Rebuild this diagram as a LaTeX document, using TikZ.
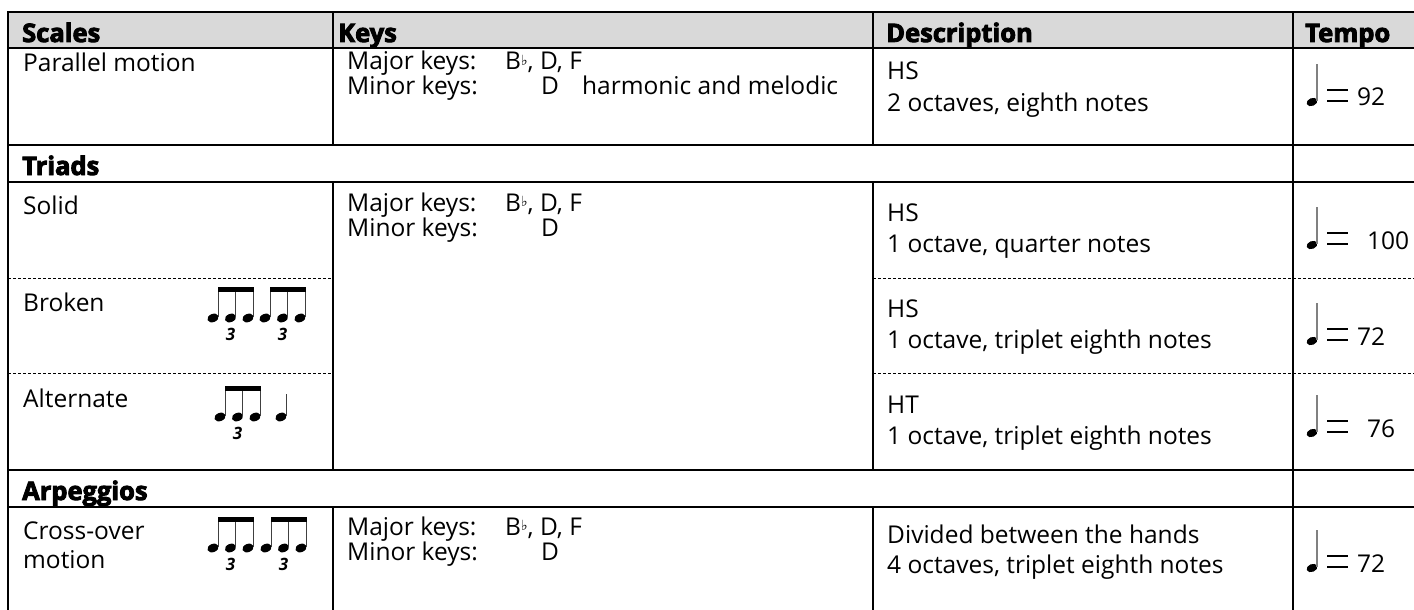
\documentclass[tikz,border=0pt]{standalone}
\usepackage{fontspec}
\setmainfont{Open Sans}
\newfontfamily\hdrfont{Open Sans}[BoldFeatures={FakeBold=3.5}]
\newfontfamily\symfont{DejaVu Sans}
\definecolor{hdrgray}{HTML}{D9D9D9}
\newcommand\flt{\raisebox{0.35ex}{\symfont\fontsize{14}{14}\selectfont ♭}}
\tikzset{
  grid/.style={line width=2.4pt, line cap=rect},
  dashline/.style={line width=0.9pt, dash pattern=on 3pt off 2pt},
  txt/.style={font=\fontsize{24.5}{30}\selectfont, anchor=base west, inner sep=0pt},
  hdr/.style={font=\hdrfont\bfseries\fontsize{25.5}{30}\selectfont, anchor=base west, inner sep=0pt},
  trinum/.style={font=\hdrfont\bfseries\itshape\fontsize{17}{17}\selectfont, inner sep=0pt},
  stemline/.style={line width=1.1pt, black!75},
  headfill/.style={fill=black},
  trip/.pic={
    \foreach \i in {0,1,2} {
      \fill[headfill, rotate around={22:(\i*17.5,0)}] (\i*17.5,0) ellipse [x radius=5.8, y radius=4.1];
      \draw[stemline] (\i*17.5+5.2,-1) -- (\i*17.5+5.2,-31);
    }
    \fill (4.6,-31) rectangle (40.8,-26.5);
    \node[trinum] (n) at (17.5,16) {3};
  },
  quarter/.pic={
    \fill[headfill, rotate=22] (0,0) ellipse [x radius=5.8, y radius=4.1];
    \draw[stemline] (5.2,-1) -- (5.2,-23);
  },
  tempo/.pic={
    \fill[headfill, rotate=22] (0,0) ellipse [x radius=5.6, y radius=3.9];
    \draw[line width=1.2pt, gray] (5,-1) -- (5,-38);
    \draw[line width=1.4pt] (15,-12) -- (36,-12) (15,-1) -- (36,-1);
  }
}
\begin{document}
\begin{tikzpicture}[x=1pt,y=-1pt]
\useasboundingbox (0,0) rectangle (1414,610);
% header background
\fill[hdrgray] (8,12) rectangle (1414,48);
% solid horizontal lines
\foreach \yy in {12,48,145,182,470,507}
  \draw[grid] (8,\yy) -- (1414,\yy);
% dashed lines
\foreach \yy in {278,373} {
  \draw[dashline] (8,\yy) -- (333,\yy);
  \draw[dashline] (873,\yy) -- (1414,\yy);
}
% vertical lines
\draw[grid] (8,12) -- (8,612);
\draw[grid] (1293,12) -- (1293,612);
\foreach \xx in {333,873} {
  \draw[grid] (\xx,12) -- (\xx,145);
  \draw[grid] (\xx,182) -- (\xx,470);
  \draw[grid] (\xx,507) -- (\xx,612);
}
% header
\node[hdr] (hs) at (22,42) {Scales};
\node[hdr] (hk) at (338,42) {Keys};
\node[hdr] (hd) at (886,42) {Description};
\node[hdr] (ht) at (1305,42) {Tempo};
% row 1
\node[txt] (r1a) at (23,72) {Parallel motion};
\node[txt] (r1k1) at (347,70) {Major keys:};
\node[txt] (r1k1v) at (505,70) {B\flt, D, F};
\node[txt] (r1k2) at (347,95) {Minor keys:};
\node[txt] (r1k2v) at (541,95) {D};
\node[txt] (r1k2w) at (582,95) {harmonic and melodic};
\node[txt] (r1d1) at (887,80) {HS};
\node[txt] (r1d2) at (887,111) {2 octaves, eighth notes};
\pic at (1312,102) {tempo};
\node[txt] (r1t) at (1357,106) {92};
% Triads
\node[hdr] (tri) at (22,175) {Triads};
% Solid
\node[txt] (sa) at (23,214) {Solid};
\node[txt] (sk1) at (347,211) {Major keys:};
\node[txt] (sk1v) at (505,211) {B\flt, D, F};
\node[txt] (sk2) at (347,236) {Minor keys:};
\node[txt] (sk2v) at (541,236) {D};
\node[txt] (sd1) at (887,221) {HS};
\node[txt] (sd2) at (887,252) {1 octave, quarter notes};
\pic at (1312,245) {tempo};
\node[txt] (st) at (1367,249) {100};
% Broken
\node[txt] (ba) at (23,311) {Broken};
\pic (b1) at (213,318) {trip};
\pic (b2) at (265,318) {trip};
\node[txt] (bd1) at (887,317) {HS};
\node[txt] (bd2) at (887,348) {1 octave, triplet eighth notes};
\pic at (1312,341) {tempo};
\node[txt] (bt) at (1357,345) {72};
% Alternate
\node[txt] (aa) at (23,407) {Alternate};
\pic (a1) at (220,417) {trip};
\pic at (281,417) {quarter};
\node[txt] (ad1) at (887,413) {HT};
\node[txt] (ad2) at (887,444) {1 octave, triplet eighth notes};
\pic at (1312,433) {tempo};
\node[txt] (at) at (1367,437) {76};
% Arpeggios
\node[hdr] (arp) at (22,500) {Arpeggios};
% Cross-over
\node[txt] (ca1) at (23,539) {Cross-over};
\node[txt] (ca2) at (23,568) {motion};
\pic (c1) at (213,548) {trip};
\pic (c2) at (266,548) {trip};
\node[txt] (ck1) at (347,535) {Major keys:};
\node[txt] (ck1v) at (505,535) {B\flt, D, F};
\node[txt] (ck2) at (347,560) {Minor keys:};
\node[txt] (ck2v) at (541,560) {D};
\node[txt] (cd1) at (887,543) {Divided between the hands};
\node[txt] (cd2) at (887,573) {4 octaves, triplet eighth notes};
\pic at (1312,568) {tempo};
\node[txt] (ct) at (1357,572) {72};
\end{tikzpicture}
\end{document}
